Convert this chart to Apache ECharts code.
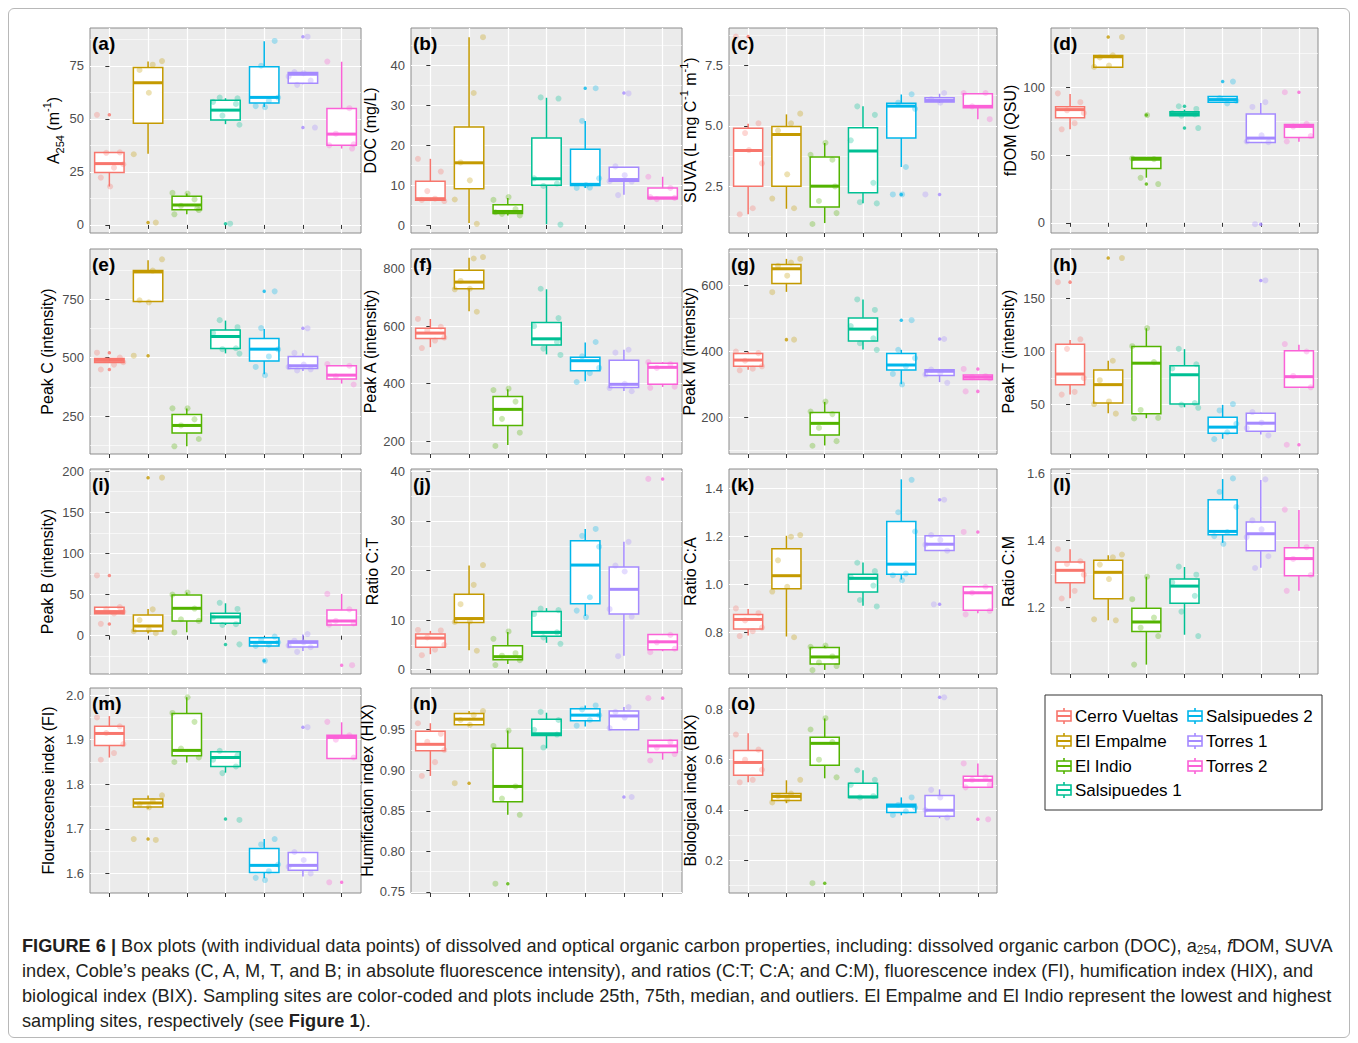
<!DOCTYPE html>
<html><head><meta charset="utf-8">
<script src="https://cdn.jsdelivr.net/npm/echarts@6/dist/echarts.min.js"></script>
<style>
html,body{margin:0;padding:0;background:#fff;}
#frame{position:absolute;left:8px;top:8px;width:1340px;height:1028px;border:1px solid #b8b8b8;border-radius:6px;}
#chart{position:absolute;left:0;top:0;width:1358px;height:1043px;}
#caption{position:absolute;left:22px;top:934px;font-family:"Liberation Sans",Arial,sans-serif;font-size:18.2px;line-height:25px;color:#231f20;white-space:nowrap;}
#caption sub{font-size:12px;line-height:0;vertical-align:-2px;}
</style></head><body>
<div id="frame"></div>
<div id="chart"></div>
<div id="caption"><b>FIGURE 6 |</b> Box plots (with individual data points) of dissolved and optical organic carbon properties, including: dissolved organic carbon (DOC), a<sub>254</sub>, <i>f</i>DOM, SUVA<br>index, Coble’s peaks (C, A, M, T, and B; in absolute fluorescence intensity), and ratios (C:T; C:A; and C:M), fluorescence index (FI), humification index (HIX), and<br>biological index (BIX). Sampling sites are color-coded and plots include 25th, 75th, median, and outliers. El Empalme and El Indio represent the lowest and highest<br>sampling sites, respectively (see <b>Figure 1</b>).</div>
<script>
// ---------------- DATA ----------------
const SITES = ['Cerro Vueltas','El Empalme','El Indio','Salsipuedes 1','Salsipuedes 2','Torres 1','Torres 2'];

// box stats per site: [lower whisker, Q1, median, Q3, upper whisker]
const STATS_A = [[18.1,24.7,28.9,34.1,34.1],[33.6,47.9,67.0,74.2,77.0],[5.0,7.1,9.4,13.5,14.8],[47.5,49.4,54.1,58.8,59.7],[55.6,57.4,60.1,74.5,86.5],[66.3,66.8,71.0,71.8,72.0],[36.0,37.6,42.8,54.9,76.9]];
const OUT_A = [[51.9],[1.1],[],[0.6],[],[88.7,45.9],[]];
const PTS_A = [[51.9,34.2,34.0,28.6,27.0,22.3,18.1],[77.2,75.5,73.0,62.3,33.3,1.1],[14.8,15.1,12.0,9.0,7.0,5.0,7.8],[60.0,59.7,58.0,57.0,51.5,47.2,0.6],[86.7,75.0,60.0,58.5,56.0,55.5],[88.7,72.0,71.5,70.0,68.0,66.0,45.9],[77.0,55.0,43.0,38.0,37.5,36.0]];

const STATS_B = [[6.0,6.2,6.6,11.0,16.6],[0.5,9.1,15.6,24.6,47.1],[2.4,2.9,3.4,5.1,6.8],[0.2,10.0,11.6,21.8,31.9],[9.3,9.9,10.2,19.0,26.1],[7.6,11.0,11.4,14.5,14.5],[6.5,6.6,6.8,9.3,12.1]];
const OUT_B = [[],[],[],[],[34.3],[33.1],[]];
const PTS_B = [[16.6,13.4,8.5,6.0,6.6,6.3],[47.1,33.1,15.7,11.2,6.4,0.3],[7.0,6.3,4.0,2.8,2.4,3.2],[32.0,31.7,11.7,10.4,9.8,0.1],[34.3,26.1,11.7,9.4,9.3,10.0],[33.0,14.7,12.5,11.0,10.9,7.5],[12.1,9.3,6.5,6.8,7.0]];

const STATS_C = [[1.35,2.51,3.98,4.90,5.08],[1.58,2.51,4.64,4.97,5.47],[0.99,1.65,2.51,3.71,4.29],[1.81,2.24,3.96,4.92,5.80],[3.30,4.50,5.81,5.93,6.29],[5.95,5.98,6.04,6.15,6.32],[5.27,5.74,5.80,6.32,6.32]];
const OUT_C = [[8.68],[],[],[],[2.17],[2.17],[]];
const PTS_C = [[8.68,5.1,4.7,3.45,1.6,1.35,4.0],[5.5,5.1,4.8,3.0,2.0,1.6],[4.3,3.8,3.6,1.9,1.4,0.95,2.5],[5.8,5.45,4.4,2.65,1.85,1.8],[6.3,5.95,5.7,3.3,2.17,2.17],[6.35,6.1,5.95,2.17],[6.35,6.35,5.8,5.27]];

const STATS_D = [[69.1,77.5,83.5,85.7,95.0],[114.8,114.8,122.5,123.5,123.5],[33.3,40.0,46.9,48.1,48.1],[79.0,79.0,80.5,82.0,83.5],[88.9,88.9,90.9,93.1,93.1],[59.0,59.3,62.5,80.2,88.4],[59.8,63.0,71.1,72.6,72.6]];
const OUT_D = [[],[137],[79.5,28.6],[86,69.9],[104.2],[-1],[96.3]];
const PTS_D = [[95.5,89,83,81,73.5,69],[137,123.5,122,116,115],[79.5,47.5,47,33.2,28.6],[86,84,81,80,79,69.9],[104.2,92,90,88],[89,85.5,64.5,60,59.5,-1],[96.3,73,71,64,60]];

const STATS_E = [[479,479,488,496,496],[737,740,866,872,916],[121,178,210,257,282],[518,539,590,618,658],[429,485,536,582,622],[443,453,465,505,518],[389,408,425,465,465]];
const OUT_E = [[521,449],[508],[],[],[783],[625],[]];
const PTS_E = [[521,500,490,480,470,449],[920,872,745,736,508],[283,283,236,210,152,121],[660,630,605,540,536,517],[783,626,535,505,460,425],[625,520,470,460,450,445],[472,465,420,385]];

const STATS_F = [[527,557,576,593,625],[652,730,753,794,838],[187,255,311,356,381],[502,535,556,613,728],[409,445,480,492,543],[375,387,398,482,518],[389,398,457,471,475]];
const OUT_F = [[],[],[],[],[],[],[]];
const PTS_F = [[625,598,585,560,550,524],[840,835,757,730,728,650],[383,378,338,278,230,184],[730,628,600,545,522,500],[545,495,455,437,406],[518,508,400,385,374],[475,468,455,390,386]];

const STATS_G = [[345,355,374,394,399],[581,606,651,664,681],[115,147,182,215,247],[406,432,468,502,558],[301,344,359,394,405],[307,327,340,345,345],[315,315,322,329,329]];
const OUT_G = [[],[436],[],[],[495],[438],[347,279]];
const PTS_G = [[400,395,372,355,348,343],[681,670,660,630,580,436],[248,218,210,168,128,114],[558,526,477,440,425,405],[495,405,380,355,332,300],[438,345,335,330,305],[347,325,322,318,279]];

const STATS_H = [[59.4,68.8,78.8,106.9,110.9],[41.9,51.6,68.8,82.5,91.3],[37.2,41.3,89.0,104.7,121.9],[47.5,50.6,78.1,86.6,102.2],[17.8,23.1,28.8,38.1,49.7],[21.9,25.0,32.5,41.9,42.5],[66.3,66.3,76.3,100.6,106.3]];
const OUT_H = [[165.3],[188],[],[],[],[166.9],[12.2]];
const PTS_H = [[165.3,111.5,102.5,75,62,59.4],[188,91.3,73,53,50.5,41.5],[122,105,90,45,37.5,37],[102.5,88,84,51.5,50,47],[50.5,44.5,32,24,17.5],[166.9,43,33,28,21],[107,100,77,66.3,12.2]];

const STATS_I = [[26.8,26.8,29.3,34.6,35.0],[2.8,5.7,11.8,25.2,32.5],[4.1,17.9,33.3,49.6,52.4],[13.0,15.0,22.8,27.2,39.4],[-12.6,-12.6,-8.1,-2.4,-1.2],[-18.7,-13.8,-8.1,-6.5,1.6],[13.0,13.0,17.9,31.3,50.8]];
const OUT_I = [[73.2,14.2],[191.9],[],[-10.6],[-30.5],[],[-35.8]];
const PTS_I = [[73.2,34.8,32,29,27,14.5],[192,32,19,7,5.5,3],[52.5,50,33,20,18,4],[40,32.5,22,14,13,-10.5],[-1,-5,-8,-11,-12.5,-30.5],[2,-6,-8,-12,-14,-19.6],[50.8,32,18,15,13.5,-35.8]];

const STATS_J = [[3.1,4.5,6.35,7.2,7.8],[3.9,9.5,10.3,15.2,21.0],[1.1,2.0,2.6,4.8,7.6],[5.4,6.7,7.5,11.7,12.4],[10.8,13.3,21.1,26.0,28.4],[2.8,11.2,16.2,20.7,25.8],[3.7,4.0,5.6,7.1,7.1]];
const OUT_J = [[],[],[],[],[],[],[38.5]];
const PTS_J = [[8.0,7.9,6.5,5.0,4.0,2.9],[21.1,17.1,13.2,9.7,9.6,3.8],[7.7,6.2,3.3,2.8,1.9,0.9],[12.3,12.0,11.2,7.5,6.5,5.2],[28.4,27.0,24.8,14.6,11.9,10.6],[25.8,21.0,19.8,12.2,10.7,2.7],[38.5,7.0,5.5,4.2,3.5]];

const STATS_K = [[0.787,0.814,0.854,0.875,0.897],[0.783,0.982,1.036,1.148,1.202],[0.644,0.669,0.698,0.737,0.745],[0.911,0.968,1.025,1.042,1.091],[1.020,1.042,1.084,1.262,1.437],[1.140,1.141,1.167,1.202,1.202],[0.880,0.892,0.965,0.990,0.990]];
const OUT_K = [[],[],[],[],[],[1.352,0.917],[1.218]];
const PTS_K = [[0.90,0.88,0.85,0.82,0.805,0.785],[1.205,1.198,1.10,0.99,0.97,0.78],[0.745,0.74,0.70,0.675,0.66,0.643],[1.09,1.055,1.03,0.995,0.935,0.908],[1.435,1.30,1.22,1.045,1.038,1.017],[1.352,1.205,1.185,1.165,1.14,0.917],[1.218,0.99,0.965,0.89,0.875]];

const STATS_L = [[1.228,1.274,1.311,1.336,1.374],[1.162,1.226,1.305,1.341,1.356],[1.030,1.129,1.157,1.198,1.292],[1.119,1.213,1.264,1.285,1.321],[1.393,1.417,1.427,1.521,1.583],[1.319,1.369,1.420,1.455,1.580],[1.250,1.295,1.346,1.378,1.491]];
const OUT_L = [[],[],[],[],[],[],[]];
const PTS_L = [[1.374,1.338,1.33,1.298,1.25,1.227],[1.358,1.35,1.328,1.285,1.165,1.162],[1.292,1.225,1.17,1.14,1.115,1.03],[1.322,1.298,1.275,1.235,1.188,1.115],[1.585,1.545,1.5,1.425,1.413,1.39],[1.582,1.46,1.433,1.41,1.353,1.318],[1.492,1.38,1.345,1.297,1.25]];

const STATS_M = [[1.860,1.887,1.914,1.930,1.953],[1.745,1.749,1.758,1.767,1.775],[1.849,1.864,1.876,1.959,1.995],[1.826,1.840,1.860,1.873,1.875],[1.589,1.602,1.618,1.656,1.677],[1.593,1.607,1.618,1.647,1.648],[1.858,1.858,1.905,1.910,1.939]];
const OUT_M = [[],[1.677],[],[1.722],[],[1.928],[1.58]];
const PTS_M = [[1.95,1.93,1.915,1.89,1.87,1.855],[1.775,1.762,1.755,1.748,1.677,1.675],[1.995,1.96,1.94,1.88,1.86,1.85],[1.875,1.865,1.855,1.84,1.825,1.72],[1.677,1.665,1.62,1.605,1.59,1.585],[1.928,1.648,1.63,1.615,1.6],[1.94,1.91,1.9,1.86,1.58]];

const STATS_N = [[0.893,0.924,0.932,0.948,0.958],[0.955,0.956,0.963,0.970,0.973],[0.845,0.861,0.880,0.927,0.949],[0.927,0.943,0.945,0.963,0.971],[0.954,0.961,0.968,0.976,0.980],[0.950,0.950,0.967,0.973,0.978],[0.913,0.922,0.930,0.937,0.937]];
const OUT_N = [[],[0.884],[0.76],[],[],[0.867],[0.989]];
const PTS_N = [[0.958,0.945,0.935,0.925,0.91,0.893],[0.973,0.968,0.962,0.956,0.884],[0.949,0.93,0.88,0.865,0.845,0.76],[0.972,0.962,0.95,0.944,0.928],[0.98,0.975,0.968,0.962,0.955],[0.978,0.972,0.965,0.952,0.867],[0.989,0.935,0.928,0.92,0.912]];

const STATS_O = [[0.510,0.538,0.589,0.637,0.705],[0.427,0.438,0.454,0.466,0.518],[0.526,0.578,0.665,0.689,0.764],[0.450,0.450,0.452,0.506,0.558],[0.379,0.390,0.415,0.423,0.450],[0.367,0.375,0.399,0.458,0.482],[0.490,0.490,0.518,0.534,0.585]];
const OUT_O = [[],[],[0.109],[],[],[0.848],[0.363]];
const PTS_O = [[0.70,0.64,0.60,0.56,0.52,0.51],[0.52,0.465,0.455,0.44,0.43],[0.765,0.72,0.67,0.60,0.53,0.109],[0.558,0.52,0.50,0.455,0.45],[0.45,0.42,0.41,0.395,0.38],[0.848,0.48,0.45,0.40,0.37],[0.585,0.53,0.52,0.50,0.49,0.363]];

// y-axis extents and tick labels
const RANGE_A=[-3.8,92.8], TICKS_A=['0','25','50','75'];
const RANGE_B=[-2.0,49.4], TICKS_B=['0','10','20','30','40'];
const RANGE_C=[0.58,9.03], TICKS_C=['2.5','5.0','7.5'];
const RANGE_D=[-7.5,143.7], TICKS_D=['0','50','100'];
const RANGE_E=[88,964], TICKS_E=['250','500','750'];
const RANGE_F=[156,868], TICKS_F=['200','400','600','800'];
const RANGE_G=[89,711], TICKS_G=['200','400','600'];
const RANGE_H=[3.5,196.5], TICKS_H=['50','100','150'];
const RANGE_I=[-46.5,202.5], TICKS_I=['0','50','100','150','200'];
const RANGE_J=[-0.9,40.5], TICKS_J=['0','10','20','30','40'];
const RANGE_K=[0.627,1.48], TICKS_K=['0.8','1.0','1.2','1.4'];
const RANGE_L=[1.002,1.613], TICKS_L=['1.2','1.4','1.6'];
const RANGE_M=[1.556,2.016], TICKS_M=['1.6','1.7','1.8','1.9','2.0'];
const RANGE_N=[0.7485,1.0015], TICKS_N=['0.75','0.80','0.85','0.90','0.95'];
const RANGE_O=[0.07,0.885], TICKS_O=['0.2','0.4','0.6','0.8'];

const NAMES = [
 '{b|A}{s|254}{b| (m}{p|-1}{b|)}', '{b|DOC (mg/L)}', '{b|SUVA (L mg C}{p|-1}{b| m}{p|-1}{b|)}', '{b|fDOM (QSU)}',
 '{b|Peak C (intensity)}', '{b|Peak A (intensity)}', '{b|Peak M (intensity)}', '{b|Peak T (intensity)}',
 '{b|Peak B (intensity)}', '{b|Ratio C:T}', '{b|Ratio C:A}', '{b|Ratio C:M}',
 '{b|Flourescense index (FI)}', '{b|Humification index (HIX)}', '{b|Biological index (BIX)}'
];
const TAGS = ['(a)','(b)','(c)','(d)','(e)','(f)','(g)','(h)','(i)','(j)','(k)','(l)','(m)','(n)','(o)'];

// ---------------- STYLE / LAYOUT ----------------
const COLORS = ['#F8766D','#C49A00','#53B400','#00C094','#00B6EB','#A58AFF','#FB61D7'];
const COL_LEFT = [90, 411, 729, 1051];
const COL_W = [271, 271, 268, 267];
const ROW_TOP = [28, 249, 469, 688];
const ROW_H = 205;
const NAME_GAP = [23,29,27,29, 31,29,27,31, 31,27,27,31, 30,31,27];
const JITTER = [-0.32,0.27,-0.08,0.36,0.12,-0.22,0.02,-0.37,0.2,-0.15,0.31];
const BOX_W = 0.76, LW = 1.5;
const FONT = '"Liberation Sans", Arial, sans-serif';

const PANELS = [
 [STATS_A,OUT_A,PTS_A,RANGE_A,TICKS_A],[STATS_B,OUT_B,PTS_B,RANGE_B,TICKS_B],[STATS_C,OUT_C,PTS_C,RANGE_C,TICKS_C],[STATS_D,OUT_D,PTS_D,RANGE_D,TICKS_D],
 [STATS_E,OUT_E,PTS_E,RANGE_E,TICKS_E],[STATS_F,OUT_F,PTS_F,RANGE_F,TICKS_F],[STATS_G,OUT_G,PTS_G,RANGE_G,TICKS_G],[STATS_H,OUT_H,PTS_H,RANGE_H,TICKS_H],
 [STATS_I,OUT_I,PTS_I,RANGE_I,TICKS_I],[STATS_J,OUT_J,PTS_J,RANGE_J,TICKS_J],[STATS_K,OUT_K,PTS_K,RANGE_K,TICKS_K],[STATS_L,OUT_L,PTS_L,RANGE_L,TICKS_L],
 [STATS_M,OUT_M,PTS_M,RANGE_M,TICKS_M],[STATS_N,OUT_N,PTS_N,RANGE_N,TICKS_N],[STATS_O,OUT_O,PTS_O,RANGE_O,TICKS_O]
];

function renderBox(params, api) {
  const i = api.value(0);
  const col = COLORS[i];
  const pMin = api.coord([i, api.value(1)]);
  const pQ1 = api.coord([i, api.value(2)]);
  const pMed = api.coord([i, api.value(3)]);
  const pQ3 = api.coord([i, api.value(4)]);
  const pMax = api.coord([i, api.value(5)]);
  const hw = api.size([BOX_W, 0])[0] / 2;
  const cx = pMed[0];
  return {type:'group', children:[
    {type:'line', shape:{x1:cx,y1:pMax[1],x2:cx,y2:pQ3[1]}, style:{stroke:col,lineWidth:LW}},
    {type:'line', shape:{x1:cx,y1:pQ1[1],x2:cx,y2:pMin[1]}, style:{stroke:col,lineWidth:LW}},
    {type:'rect', shape:{x:cx-hw,y:pQ3[1],width:2*hw,height:Math.max(pQ1[1]-pQ3[1],0.5)}, style:{fill:'#fff',stroke:col,lineWidth:LW}},
    {type:'line', shape:{x1:cx-hw,y1:pMed[1],x2:cx+hw,y2:pMed[1]}, style:{stroke:col,lineWidth:LW*2}}
  ]};
}

const grids=[], xAxes=[], yAxes=[], series=[], titles=[];
const CAT_IDX = SITES.map((s,i)=>i);

PANELS.forEach((p, k) => {
  const [stats, outs, pts, range, ticks] = p;
  const r = Math.floor(k/4), c = k%4;
  grids.push({left:COL_LEFT[c], top:ROW_TOP[r], width:COL_W[c], height:ROW_H, show:true,
    backgroundColor:'#EBEBEB', borderColor:'#8c8c8c', borderWidth:1});
  titles.push({text:TAGS[k], left:COL_LEFT[c]+2, top:ROW_TOP[r]+6, padding:0,
    textStyle:{fontSize:19, fontWeight:'bold', color:'#000', fontFamily:FONT}});
  xAxes.push({gridIndex:k, type:'value', min:-0.5, max:6.5,
    axisLine:{show:false},
    axisTick:{show:true, customValues:CAT_IDX, length:4, lineStyle:{color:'#333', width:1}},
    axisLabel:{show:false, customValues:CAT_IDX},
    splitLine:{show:true, lineStyle:{color:'#ffffff', width:1.2}}});
  const tv = ticks.map(Number);
  const step = tv.length > 1 ? tv[1]-tv[0] : 1;
  const minors = [];
  for (let m = tv[0]-step/2; m <= range[1]; m += step) { if (m >= range[0]) minors.push(+m.toFixed(6)); }
  yAxes.push({gridIndex:k, type:'value', min:range[0], max:range[1], position:'left',
    axisLine:{show:false},
    axisTick:{show:true, customValues:tv, length:4, lineStyle:{color:'#333', width:1}},
    axisLabel:{customValues:tv, color:'#4d4d4d', fontSize:13, margin:6, fontFamily:FONT,
      formatter:(v)=>{ const j = tv.findIndex(t=>Math.abs(t-v)<1e-9); return j>=0 ? ticks[j] : ''; }},
    splitLine:{show:true, lineStyle:{color:'#ffffff', width:1.2}},
    name:NAMES[k], nameLocation:'middle', nameGap:NAME_GAP[k],
    nameTextStyle:{color:'#000', fontFamily:FONT, fontSize:16,
      rich:{b:{fontSize:16, lineHeight:24, color:'#000', fontFamily:FONT},
            s:{fontSize:11, lineHeight:12, verticalAlign:'bottom', color:'#000', fontFamily:FONT},
            p:{fontSize:11, lineHeight:12, verticalAlign:'top', color:'#000', fontFamily:FONT}}}});
  yAxes.push({gridIndex:k, type:'value', min:range[0], max:range[1], position:'left',
    axisLine:{show:false}, axisTick:{show:false, customValues:minors},
    axisLabel:{show:false, customValues:minors},
    splitLine:{show:true, lineStyle:{color:'#ffffff', width:0.6}}});

  series.push({type:'custom', xAxisIndex:k, yAxisIndex:2*k, renderItem:renderBox, silent:true, z:2,
    encode:{x:0, y:[1,2,3,4,5]},
    data: stats.map((s,i)=>[i].concat(s))});
  const outData = [];
  outs.forEach((arr,i)=>arr.forEach(v=>outData.push({value:[i,v], itemStyle:{color:COLORS[i]}})));
  series.push({type:'scatter', xAxisIndex:k, yAxisIndex:2*k, symbolSize:3.5, silent:true, z:3, data:outData});
  const ptData = [];
  pts.forEach((arr,i)=>arr.forEach((v,j)=>{
    const off = JITTER[(j + i*3) % JITTER.length];
    ptData.push({value:[i+off, v], itemStyle:{color:COLORS[i], opacity:0.3}});
  }));
  series.push({type:'scatter', xAxisIndex:k, yAxisIndex:2*k, symbolSize:6, silent:true, z:4, data:ptData});
});

// legend drawn with graphic elements
const LEG_X = [1056, 1187], LEG_Y = [716, 741, 766, 790];
const gfx = [{type:'rect', shape:{x:1045, y:695, width:277, height:115}, style:{fill:'#fff', stroke:'#333', lineWidth:1}}];
SITES.forEach((s,i)=>{
  const col = i<4 ? 0 : 1, row = i<4 ? i : i-4;
  const x = LEG_X[col], y = LEG_Y[row];
  gfx.push({type:'line', shape:{x1:x+8,y1:y-8,x2:x+8,y2:y+8}, style:{stroke:COLORS[i], lineWidth:1.6}});
  gfx.push({type:'rect', shape:{x:x+1,y:y-5,width:14,height:10}, style:{fill:'#fff', stroke:COLORS[i], lineWidth:1.6}});
  gfx.push({type:'line', shape:{x1:x+1,y1:y,x2:x+15,y2:y}, style:{stroke:COLORS[i], lineWidth:2}});
  gfx.push({type:'text', x:x+19, y:y, style:{text:s, fill:'#000', font:'17px "Liberation Sans", Arial, sans-serif', verticalAlign:'middle', textVerticalAlign:'middle', align:'left'}});
});

const chart = echarts.init(document.getElementById('chart'), null, {renderer:'svg'});
chart.setOption({
  animation:false,
  title:titles, grid:grids, xAxis:xAxes, yAxis:yAxes, series:series,
  graphic:{elements:gfx}
});
</script>
</body></html>
